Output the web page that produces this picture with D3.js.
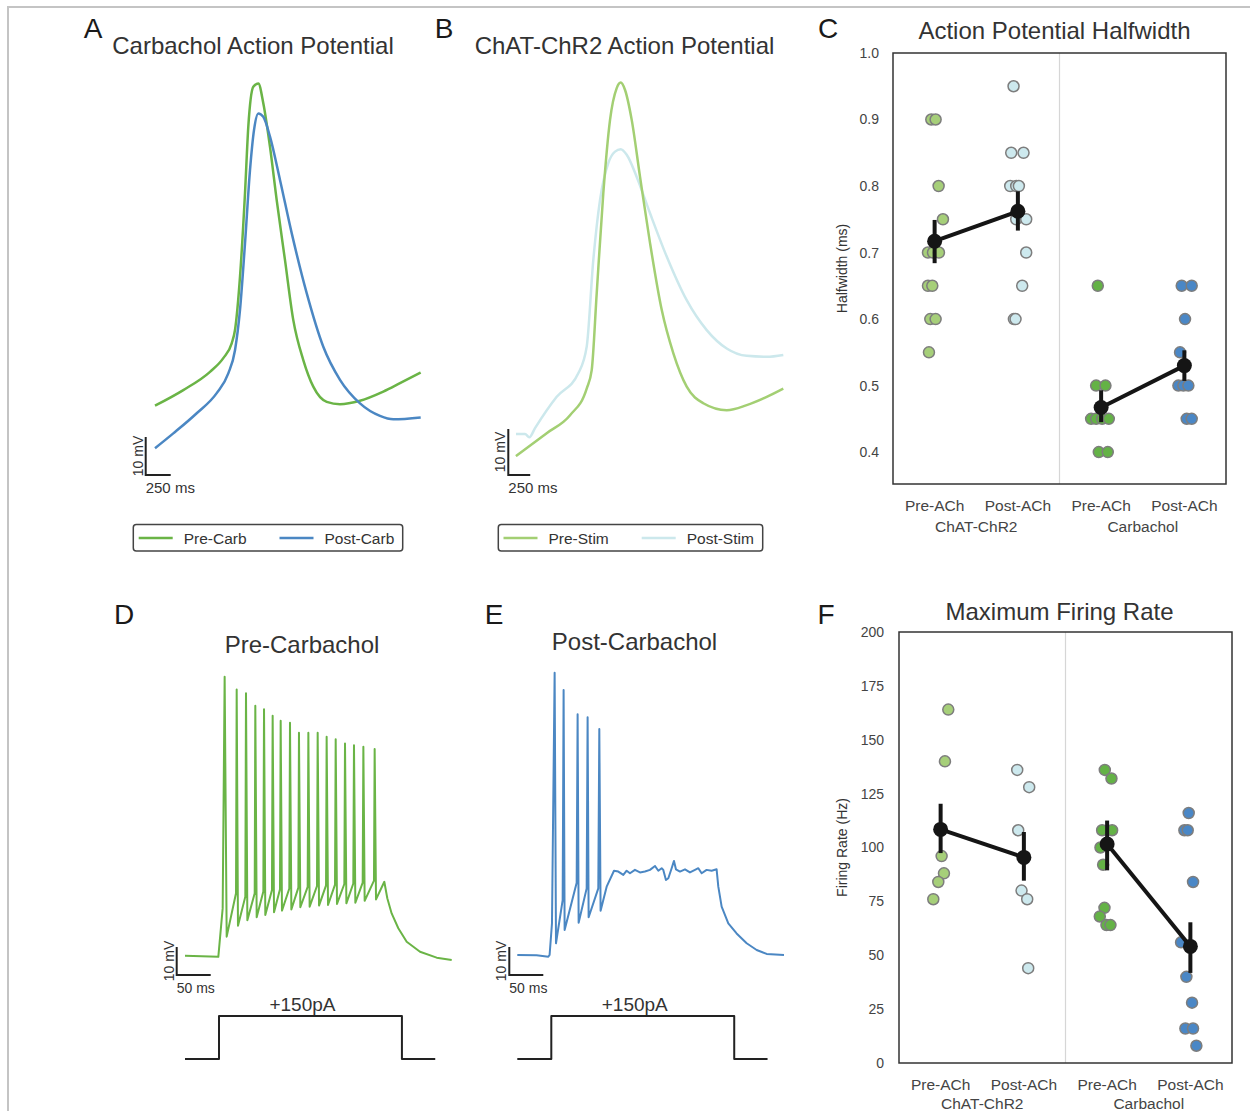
<!DOCTYPE html>
<html>
<head>
<meta charset="utf-8">
<script src="https://cdn.jsdelivr.net/npm/d3@7"></script>
<style>
  body { margin: 0; background: #fff; }
  text { font-family: 'Liberation Sans', Arial, sans-serif; }
</style>
</head>
<body>
<div id="fig"></div>
<script>
// ---------- data (time in ms, voltage in mV) ----------
// panel A
var preCarbAP = [[0,-55.7],[283,-51.6],[550,-46.8],[683,-43.2],[767,-39.3],[800,-35.8],[850,-21.8],[900,0.2],[933,17.7],[983,28.2],[1033,29.1],[1083,23.9],[1150,12.4],[1217,-1.6],[1300,-17.4],[1383,-33.2],[1483,-43.7],[1583,-50.7],[1717,-54.7],[1850,-55.3],[2050,-54.4],[2283,-52],[2450,-49.8],[2657,-47]];
var postCarbAP = [[0,-66.9],[183,-63],[417,-57.7],[617,-52.4],[733,-47.2],[800,-41.1],[850,-30.5],[900,-13],[950,6.3],[990,16.8],[1033,21.2],[1083,20.3],[1150,15.1],[1250,3.7],[1367,-10.3],[1517,-26.1],[1683,-40.2],[1850,-48.9],[2050,-55.1],[2250,-58.4],[2383,-59.3],[2657,-58.8]];
// panel B
var preStimAP = [[0,-65.9],[350,-60.9],[616,-57],[806,-51.2],[863,-47.2],[920,-30.5],[995,-8.8],[1072,7.2],[1148,14.1],[1194,15.3],[1243,13.7],[1319,7.2],[1414,-5.2],[1528,-19.6],[1661,-34.1],[1793,-43.5],[1946,-50.8],[2135,-54.4],[2402,-55.9],[2630,-54.8],[2858,-53],[3047,-51.2]];
var postStimAP = [[0,-61.1],[103,-61.1],[152,-61.8],[217,-59.8],[464,-53],[710,-47.9],[806,-42.1],[881,-23.3],[958,-10.2],[1052,-2.2],[1129,0.3],[1194,0.8],[1262,-0.4],[1376,-5.2],[1528,-13.1],[1718,-22.5],[1946,-32],[2174,-38.5],[2402,-42.5],[2630,-44.1],[2858,-44.3],[3047,-43.9]];
// panel D
var preCarbTrain = [[0,-70],[49,-70.4],[55.4,-53.1],[58.3,29.6],[61.3,-63.2],[75,-47.7],[76,25.1],[77.9,-59.3],[88.7,-48.9],[89.7,23.7],[91.7,-57.3],[102.5,-47.7],[103.4,19.3],[105.4,-56.3],[115.2,-47.1],[116.2,18],[118.1,-55.5],[127.9,-46.5],[128.9,15.7],[130.9,-54.5],[139.7,-46.3],[140.7,13.9],[142.6,-53.9],[153.4,-46],[154.4,13.2],[156.4,-53.5],[166.7,-45.7],[167.6,9.6],[169.6,-52.7],[180.4,-45.4],[181.4,9.6],[183.3,-52.5],[194.1,-45.1],[195.1,9.6],[197.1,-52.1],[207.4,-44.9],[208.3,8.2],[210.3,-51.9],[220.6,-44.6],[221.6,7.3],[223.5,-51.5],[234.3,-44.4],[235.3,5.8],[237.3,-51.3],[247.5,-44.2],[248.5,5.2],[250.5,-51.1],[261.3,-43.9],[262.3,4.6],[264.2,-50.4],[277.9,-43.2],[278.9,3.8],[280.9,-49.9],[293.1,-43.6],[297.5,-49.5],[303.9,-54.9],[313.7,-60.2],[326,-65],[345.6,-68.6],[370.1,-70.7],[392.2,-71.5]];
// panel E
var postCarbTrain = [[0,-70],[28.4,-70.1],[45.6,-70.6],[47.5,-70],[51,-58.7],[54.9,30.8],[56.9,-65.8],[66.7,-50.4],[68.1,24.6],[69.6,-61.1],[87.3,-44.2],[88.7,16],[90.2,-58.5],[102,-46.2],[103.4,14.9],[104.9,-56.5],[119.1,-46.2],[120.6,10.7],[122.5,-54.2],[131.4,-45.6],[142.2,-39.9],[148.5,-40.2],[155.9,-41.4],[160.8,-39.9],[165.7,-40.8],[173,-39.6],[180.4,-40.5],[187.7,-40.2],[195.1,-39.6],[202.5,-38.2],[207.4,-39.9],[212.3,-39],[214.7,-39.6],[218.6,-43.2],[222.1,-42.6],[227,-39],[230.4,-36.4],[233.3,-39.4],[239.2,-40.2],[246.6,-39.4],[253.9,-40.5],[261.3,-39.6],[266.2,-39],[271.1,-40.8],[278.4,-39.6],[285.8,-39.9],[293.1,-39.4],[295.6,-45.6],[300.5,-52.7],[310.3,-58.7],[322.5,-62.3],[337.3,-65.8],[352,-68.2],[366.7,-69.6],[392.2,-70]];
// current step (ms, pA)
var stepT = [0, 50, 50, 319, 319, 368];
var stepI = [0, 0, 150, 150, 0, 0];

// panels C and F
var conds = ["Pre-ACh|ChAT", "Post-ACh|ChAT", "Pre-ACh|Carb", "Post-ACh|Carb"];
var condLabels = ["Pre-ACh", "Post-ACh", "Pre-ACh", "Post-ACh"];
var groupLabels = ["ChAT-ChR2", "Carbachol"];
var condColors = ["#a6cf79", "#cde9ee", "#64b246", "#4a87c6"];

var hwPreChat = [0.9,0.9,0.8,0.75,0.7,0.7,0.7,0.65,0.65,0.6,0.6,0.55];
var hwPreChatJit = [-0.04,0.012,0.048,0.1,-0.08,-0.02,0.052,-0.08,-0.028,-0.052,0.012,-0.068];
var hwPostChat = [0.95,0.85,0.85,0.8,0.8,0.8,0.75,0.75,0.7,0.65,0.6,0.6];
var hwPostChatJit = [-0.052,-0.08,0.068,-0.092,-0.02,0.012,-0.02,0.1,0.1,0.052,-0.048,-0.028];
var hwPreCarb = [0.65,0.5,0.5,0.45,0.45,0.45,0.45,0.4,0.4];
var hwPreCarbJit = [-0.04,-0.06,0.052,-0.12,-0.06,0.012,0.092,-0.028,0.08];
var hwPostCarb = [0.65,0.65,0.6,0.55,0.5,0.5,0.5,0.45,0.45];
var hwPostCarbJit = [-0.032,0.088,0.008,-0.052,-0.072,-0.012,0.048,0.028,0.088];
var hwMean = [0.717, 0.762, 0.467, 0.530];
var hwLo = [0.684, 0.733, 0.445, 0.507];
var hwHi = [0.749, 0.792, 0.493, 0.553];
var hwTicks = [0.4, 0.5, 0.6, 0.7, 0.8, 0.9, 1.0];

var frPreChat = [164,140,96,88,84,76];
var frPreChatJit = [0.092,0.052,0.012,0.04,-0.028,-0.088];
var frPostChat = [136,128,108,80,76,44];
var frPostChatJit = [-0.08,0.064,-0.068,-0.028,0.04,0.052];
var frPreCarb = [136,132,108,108,100,92,72,68,64,64];
var frPreCarbJit = [-0.028,0.052,-0.06,0.06,-0.08,-0.048,-0.032,-0.088,-0.008,0.04];
var frPostCarb = [116,108,108,84,56,40,28,16,16,8];
var frPostCarbJit = [-0.02,-0.072,-0.032,0.032,-0.112,-0.048,0.02,-0.06,0.032,0.072];
var frMean = [108.4, 95.4, 101.6, 54.1];
var frLo = [97.4, 84.6, 89.4, 41.8];
var frHi = [120.3, 107.2, 112.5, 65.3];
var frTicks = [0, 25, 50, 75, 100, 125, 150, 175, 200];

var cGreen = "#6ab446", cBlue = "#4b87c3", cLightGreen = "#a3cf73", cCyan = "#cce8ec";

// ---------- figure ----------
var svg = d3.select("#fig").append("svg")
  .attr("width", 1250).attr("height", 1111)
  .style("background", "#fff");

svg.append("path")
  .attr("d", "M8,1111V7H1250")
  .attr("fill", "none").attr("stroke", "#c4c4c4").attr("stroke-width", 2);

function label(x, y, s, size, anchor, color) {
  return svg.append("text").attr("x", x).attr("y", y).text(s)
    .attr("font-size", size).attr("text-anchor", anchor || "middle")
    .attr("fill", color || "#333");
}

function trace(pts, x, y, color, w, curve) {
  svg.append("path").datum(pts)
    .attr("d", d3.line().x(function(d){ return x(d[0]); }).y(function(d){ return y(d[1]); }).curve(curve))
    .attr("fill", "none").attr("stroke", color).attr("stroke-width", w)
    .attr("stroke-linejoin", "round");
}

function scaleBar(x0, yb, xs, ys, tLen, vLen, tText, fs) {
  var h = xs(tLen) - xs(0), v = ys(0) - ys(vLen);
  svg.append("path").attr("d", "M" + x0 + "," + (yb - v) + "V" + yb + "H" + (x0 + h))
    .attr("fill", "none").attr("stroke", "#222").attr("stroke-width", 2);
  label(x0, yb + 18, tText, fs, "start");
  svg.append("text").attr("transform", "translate(" + (x0 - 3) + "," + (yb - v / 2) + ") rotate(-90)")
    .attr("text-anchor", "middle").attr("font-size", 14).attr("fill", "#333").text("10 mV");
}

function legend(x, y, w, items) {
  svg.append("rect").attr("x", x).attr("y", y).attr("width", w).attr("height", 26.5)
    .attr("rx", 3).attr("fill", "#fff").attr("stroke", "#444").attr("stroke-width", 1.5);
  items.forEach(function(it) {
    svg.append("line").attr("x1", it.lx).attr("x2", it.lx + 34)
      .attr("y1", y + 13.5).attr("y2", y + 13.5)
      .attr("stroke", it.color).attr("stroke-width", 2.5);
    label(it.lx + 45, y + 19, it.text, 15.5, "start");
  });
}

// panel letters
[["A",93,38],["B",444,38],["C",828,38],["D",124,624],["E",494,624],["F",826,624]].forEach(function(p) {
  label(p[1], p[2], p[0], 28, "middle", "#1a1a1a");
});

// ---- A ----
label(253, 54, "Carbachol Action Potential", 24);
var xA = d3.scaleLinear().domain([0, 2657]).range([155, 420.7]);
var yA = d3.scaleLinear().domain([-70, 30]).range([460, 80]);
trace(preCarbAP, xA, yA, cGreen, 2.5, d3.curveMonotoneX);
trace(postCarbAP, xA, yA, cBlue, 2.5, d3.curveMonotoneX);
scaleBar(145.7, 475, xA, yA, 250, 10, "250 ms", 15);
legend(133.3, 524.5, 269.4, [
  {lx: 138.7, color: cGreen, text: "Pre-Carb"},
  {lx: 279.5, color: cBlue, text: "Post-Carb"}
]);

// ---- B ----
label(624.5, 54, "ChAT-ChR2 Action Potential", 24);
var xB = d3.scaleLinear().domain([0, 3047]).range([516, 783.3]);
var yB = d3.scaleLinear().domain([-70, 30]).range([475, 15]);
trace(postStimAP, xB, yB, cCyan, 2.5, d3.curveMonotoneX);
trace(preStimAP, xB, yB, cLightGreen, 2.5, d3.curveMonotoneX);
scaleBar(508.3, 475, xB, yB, 250, 10, "250 ms", 15);
legend(498.3, 524.5, 264.4, [
  {lx: 503.5, color: cLightGreen, text: "Pre-Stim"},
  {lx: 641.7, color: cCyan, text: "Post-Stim"}
]);

// ---- D ----
label(302, 653, "Pre-Carbachol", 24);
var xD = d3.scaleLinear().domain([0, 392.2]).range([185, 451.7]);
var yD = d3.scaleLinear().domain([-70, 30]).range([955.7, 675.7]);
trace(preCarbTrain, xD, yD, cGreen, 2, d3.curveLinear);
scaleBar(176.7, 975, xD, yD, 50, 10, "50 ms", 14);

// ---- E ----
label(634.5, 650, "Post-Carbachol", 24);
var xE = d3.scaleLinear().domain([0, 392.2]).range([517.3, 784]);
var yE = d3.scaleLinear().domain([-70, 30]).range([955, 675]);
trace(postCarbTrain, xE, yE, cBlue, 2, d3.curveLinear);
scaleBar(509.3, 975, xE, yE, 50, 10, "50 ms", 14);

// current steps
var yStep = d3.scaleLinear().domain([0, 150]).range([1059, 1016]);
var stepPts = stepT.map(function(t, i){ return [t, stepI[i]]; });
trace(stepPts, xD, yStep, "#222", 2, d3.curveLinear);
trace(stepPts, xE, yStep, "#222", 2, d3.curveLinear);
label((xD(stepT[2]) + xD(stepT[3])) / 2 - 8, 1011, "+150pA", 19);
label((xE(stepT[2]) + xE(stepT[3])) / 2 - 8, 1011, "+150pA", 19);

// ---- C / F point plots ----
function pointPanel(o) {
  var x = d3.scaleBand().domain(conds).range([o.x0, o.x1]);
  var y = d3.scaleLinear().domain(o.domain).range([o.y1, o.y0]);
  var bw = x.bandwidth();
  var g = svg.append("g");

  g.append("line").attr("x1", o.x0 + 2 * bw).attr("x2", o.x0 + 2 * bw)
    .attr("y1", o.y0).attr("y2", o.y1).attr("stroke", "#d6d6d6").attr("stroke-width", 1.2);

  // y axis
  var ya = g.append("g").attr("transform", "translate(" + o.x0 + ",0)")
    .call(d3.axisLeft(y).tickValues(o.ticks).tickSize(0).tickPadding(o.pad).tickFormat(o.fmt));
  ya.select(".domain").remove();
  ya.selectAll("text").attr("font-size", 14).attr("fill", "#444")
    .attr("font-family", "'Liberation Sans', Arial, sans-serif");

  // x axis
  var xa = g.append("g").attr("transform", "translate(0," + o.y1 + ")")
    .call(d3.axisBottom(x).tickSize(0).tickPadding(16).tickFormat(function(d, i){ return condLabels[i]; }));
  xa.select(".domain").remove();
  xa.selectAll("text").attr("font-size", 15.5).attr("fill", "#444")
    .attr("font-family", "'Liberation Sans', Arial, sans-serif");
  groupLabels.forEach(function(s, i) {
    label(x(conds[2 * i]) + bw, o.y1 + o.grpDy, s, 15.5, "middle", "#444");
  });

  // raw points
  o.groups.forEach(function(grp, gi) {
    g.append("g").selectAll("circle").data(grp.vals).join("circle")
      .attr("cx", function(d, i){ return x(conds[gi]) + bw / 2 + grp.jit[i] * bw; })
      .attr("cy", function(d){ return y(d); })
      .attr("r", 5.5)
      .attr("fill", condColors[gi]).attr("stroke", "#7d7d7d").attr("stroke-width", 1.5);
  });

  // means with CI
  var cx = function(i){ return x(conds[i]) + bw / 2; };
  [[0, 1], [2, 3]].forEach(function(pr) {
    g.append("line").attr("x1", cx(pr[0])).attr("x2", cx(pr[1]))
      .attr("y1", y(o.mean[pr[0]])).attr("y2", y(o.mean[pr[1]]))
      .attr("stroke", "#151515").attr("stroke-width", 4);
  });
  g.append("g").selectAll("line").data(o.mean).join("line")
    .attr("x1", function(d, i){ return cx(i); }).attr("x2", function(d, i){ return cx(i); })
    .attr("y1", function(d, i){ return y(o.lo[i]); }).attr("y2", function(d, i){ return y(o.hi[i]); })
    .attr("stroke", "#151515").attr("stroke-width", 4);
  g.append("g").selectAll("circle").data(o.mean).join("circle")
    .attr("cx", function(d, i){ return cx(i); }).attr("cy", function(d){ return y(d); })
    .attr("r", 7.5).attr("fill", "#151515");

  // frame
  g.append("rect").attr("x", o.x0).attr("y", o.y0).attr("width", o.x1 - o.x0).attr("height", o.y1 - o.y0)
    .attr("fill", "none").attr("stroke", "#333").attr("stroke-width", 1.5);

  label((o.x0 + o.x1) / 2 + o.titleDx, o.titleY, o.title, 24);
  svg.append("text").attr("transform", "translate(" + o.ylabX + "," + (o.y0 + o.y1) / 2 + ") rotate(-90)")
    .attr("text-anchor", "middle").attr("font-size", 14).attr("fill", "#333").text(o.ylab);
}

pointPanel({
  x0: 893, x1: 1226, y0: 53, y1: 484, domain: [0.352, 1.0], ticks: hwTicks, pad: 14,
  fmt: d3.format(".1f"), grpDy: 48,
  groups: [
    {vals: hwPreChat, jit: hwPreChatJit}, {vals: hwPostChat, jit: hwPostChatJit},
    {vals: hwPreCarb, jit: hwPreCarbJit}, {vals: hwPostCarb, jit: hwPostCarbJit}
  ],
  mean: hwMean, lo: hwLo, hi: hwHi,
  title: "Action Potential Halfwidth", titleY: 39, titleDx: -5,
  ylab: "Halfwidth (ms)", ylabX: 847
});

pointPanel({
  x0: 899, x1: 1232, y0: 632, y1: 1063, domain: [0, 200], ticks: frTicks, pad: 15,
  fmt: d3.format("d"), grpDy: 46,
  groups: [
    {vals: frPreChat, jit: frPreChatJit}, {vals: frPostChat, jit: frPostChatJit},
    {vals: frPreCarb, jit: frPreCarbJit}, {vals: frPostCarb, jit: frPostCarbJit}
  ],
  mean: frMean, lo: frLo, hi: frHi,
  title: "Maximum Firing Rate", titleY: 620, titleDx: -6,
  ylab: "Firing Rate (Hz)", ylabX: 847
});
</script>
</body>
</html>
